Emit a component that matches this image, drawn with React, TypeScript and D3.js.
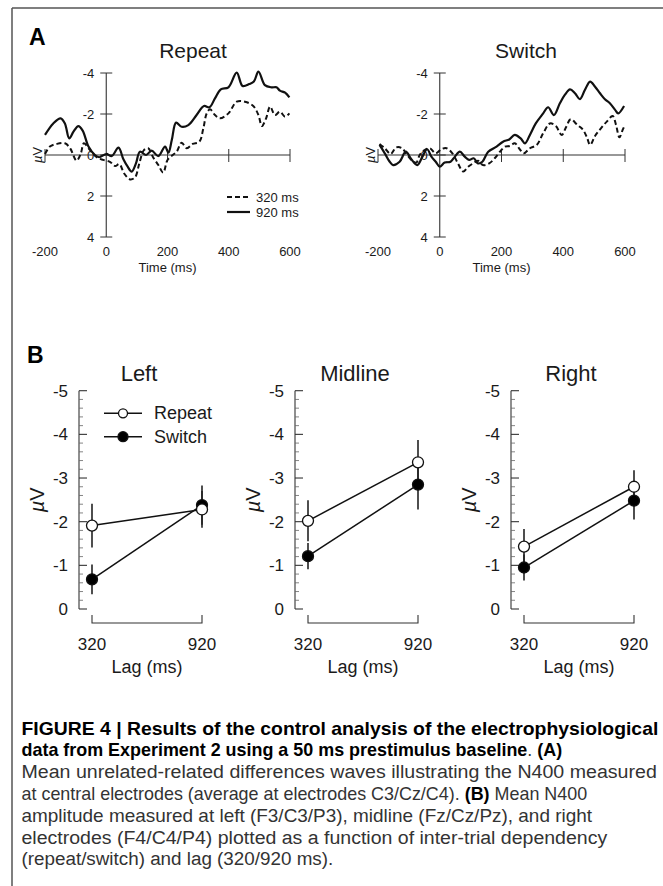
import React, { useLayoutEffect, useRef, useState } from 'react';
import * as d3 from 'd3';

// ---------- Panel A data (time in ms, amplitude in µV; negative plotted up) ----------
const waveTicksX = [-200, 0, 200, 400, 600];
const waveTickMarksX = [-200, 200, 400, 600];
const waveTicksY = [-4, -2, 0, 2, 4];

const repeat920: [number, number][] = [
  [-200, -0.98], [-173, -1.54], [-149, -1.79], [-135, -1.54], [-121, -0.81], [-107, -1.14],
  [-91, -1.41], [-77, -1.19], [-58, -0.41], [-37, 0.0], [-23, 0.11], [0, -0.05], [18, 0.05],
  [40, -0.36], [56, 0.21], [70, 0.57], [83, 0.81], [97, 0.41], [110, -0.16], [130, 0.0],
  [148, -0.21], [170, 0.05], [192, -0.41], [203, -0.11], [214, -0.73], [228, -1.58],
  [246, -1.38], [268, -1.46], [295, -1.95], [319, -2.39], [337, -2.33], [355, -2.76],
  [374, -3.2], [399, -3.3], [426, -4.02], [445, -3.37], [467, -3.46], [482, -3.58],
  [497, -4.07], [518, -3.41], [540, -3.3], [556, -3.3], [567, -3.14], [584, -3.04], [598, -2.81],
];

const repeat320: [number, number][] = [
  [-200, -0.05], [-184, -0.41], [-162, -0.54], [-135, -0.57], [-118, -0.33], [-97, 0.28],
  [-83, -0.08], [-73, -0.57], [-55, -0.28], [-31, 0.11], [-10, 0.24], [12, 0.33], [29, 0.54],
  [43, 0.44], [58, 0.89], [78, 1.19], [94, 1.09], [108, 0.41], [123, -0.24], [137, -0.33],
  [152, 0.08], [170, 0.49], [186, 0.86], [200, 0.24], [217, 0.0], [230, -0.16], [246, -0.6],
  [263, -0.33], [282, -0.54], [304, -0.65], [317, -1.3], [328, -2.03], [339, -2.23],
  [355, -1.95], [371, -1.79], [399, -2.03], [426, -2.6], [453, -2.6], [480, -2.39],
  [497, -1.95], [508, -1.41], [522, -1.79], [535, -2.36], [551, -1.95], [567, -2.11],
  [584, -1.87], [598, -2.03],
];

const switch920: [number, number][] = [
  [-195, -0.49], [-178, -0.08], [-162, 0.33], [-151, 0.49], [-130, 0.33], [-110, -0.16],
  [-92, 0.21], [-73, 0.49], [-56, 0.08], [-41, -0.28], [-27, 0.08], [-13, 0.33], [0, 0.57],
  [16, 0.37], [35, 0.33], [49, 0.08], [65, -0.16], [81, 0.08], [95, 0.24], [110, 0.16],
  [124, 0.41], [138, 0.33], [157, -0.16], [184, -0.41], [205, -0.65], [225, -0.76],
  [243, -0.98], [262, -0.81], [276, -0.57], [292, -0.98], [311, -1.54], [335, -2.03],
  [351, -2.33], [370, -1.95], [389, -2.52], [405, -2.93], [422, -3.2], [438, -3.01],
  [454, -2.73], [470, -3.17], [487, -3.58], [503, -3.33], [519, -3.01], [535, -2.72],
  [551, -2.52], [568, -2.2], [578, -2.03], [597, -2.39],
];

const switch320: [number, number][] = [
  [-195, -0.54], [-178, -0.33], [-159, -0.05], [-141, -0.37], [-122, -0.33], [-108, -0.05],
  [-92, 0.24], [-76, 0.37], [-65, 0.0], [-49, -0.24], [-32, -0.33], [-13, -0.08], [5, -0.28],
  [22, -0.33], [41, -0.08], [59, 0.41], [76, 0.81], [92, 0.57], [108, 0.41], [124, 0.28],
  [140, 0.49], [160, 0.41], [178, 0.16], [195, -0.16], [211, -0.41], [227, -0.44],
  [243, -0.57], [259, -0.28], [272, -0.08], [292, -0.33], [314, -0.49], [335, -1.06],
  [357, -1.54], [376, -1.41], [395, -0.98], [409, -1.35], [424, -1.74], [446, -1.46],
  [463, -1.25], [476, -0.89], [487, -0.49], [503, -0.93], [522, -1.3], [541, -1.63],
  [560, -1.9], [571, -1.46], [582, -0.86], [593, -1.25], [597, -1.38],
];

const lagLegend = ['320 ms', '920 ms'];

// ---------- Panel B data ----------
const lags = [320, 920];
const regions = ['Left', 'Midline', 'Right'];
const repeatMeans = [[-1.91, -2.28], [-2.02, -3.36], [-1.43, -2.8]];
const repeatErr = [[0.5, 0.42], [0.47, 0.51], [0.4, 0.38]];
const switchMeans = [[-0.68, -2.38], [-1.21, -2.85], [-0.95, -2.48]];
const switchErr = [[0.34, 0.45], [0.3, 0.57], [0.3, 0.43]];
const barTicksY = [0, -1, -2, -3, -4, -5];
const seriesNames = ['Repeat', 'Switch'];

// ---------- Caption ----------
type Seg = { t: string; b: boolean };
const captionLines: Seg[][] = [
  [{ t: 'FIGURE 4 | Results of the control analysis of the electrophysiological', b: true }],
  [{ t: 'data from Experiment 2 using a 50 ms prestimulus baseline', b: true }, { t: '. ', b: false }, { t: '(A)', b: true }],
  [{ t: 'Mean unrelated-related differences waves illustrating the N400 measured', b: false }],
  [{ t: 'at central electrodes (average at electrodes C3/Cz/C4). ', b: false }, { t: '(B)', b: true }, { t: ' Mean N400', b: false }],
  [{ t: 'amplitude measured at left (F3/C3/P3), midline (Fz/Cz/Pz), and right', b: false }],
  [{ t: 'electrodes (F4/C4/P4) plotted as a function of inter-trial dependency', b: false }],
  [{ t: '(repeat/switch) and lag (320/920 ms).', b: false }],
];
const captionWidths = [637, 541, 636, 566, 571, 586, 312];

const FONT = 'Liberation Sans, Arial, Helvetica, sans-serif';
const INK = '#1a1a1a';

function CaptionLine({ segs, x, y, width }: { segs: Seg[]; x: number; y: number; width: number }) {
  const ref = useRef<SVGTextElement>(null);
  const [sx, setSx] = useState(1);
  useLayoutEffect(() => {
    if (ref.current) {
      const w = ref.current.getComputedTextLength();
      if (w > 0) setSx(width / w);
    }
  }, [width]);
  return (
    <text ref={ref} transform={`translate(${x},${y}) scale(${sx},1)`} fontSize={18} fontFamily={FONT} fill="#333"
      style={{ whiteSpace: 'pre' }}>
      {segs.map((s, j) => (
        <tspan key={j} fontWeight={s.b ? 'bold' : 'normal'} fill={s.b ? '#000' : '#333'}>{s.t}</tspan>
      ))}
    </text>
  );
}

function WavePanel({ x0, x1, title, solid, dashed, legend }: {
  x0: number; x1: number; title: string; solid: [number, number][]; dashed: [number, number][]; legend: boolean;
}) {
  const xs = d3.scaleLinear().domain([-200, 600]).range([x0, x1]);
  const ys = d3.scaleLinear().domain([-4, 4]).range([73, 237]);
  const line = d3.line<[number, number]>().x(d => xs(d[0])).y(d => ys(d[1])).curve(d3.curveCatmullRom.alpha(0.5));
  const ax = xs(0);
  return (
    <g fontFamily={FONT} fill={INK}>
      <text x={x0 + 148} y={58} fontSize={21} textAnchor="middle">{title}</text>
      <line x1={ax} x2={ax} y1={ys(-4)} y2={ys(4)} stroke="#333" strokeWidth={1.1} />
      {waveTicksY.map(v => (
        <g key={v}>
          <line x1={ax - 6} x2={ax + 6} y1={ys(v)} y2={ys(v)} stroke="#333" strokeWidth={1} />
          <text x={ax - 12} y={ys(v) + 4.5} fontSize={13} textAnchor="end">{v < 0 ? `-${-v}` : `${v}`}</text>
        </g>
      ))}
      <line x1={xs(-200)} x2={xs(600)} y1={ys(0)} y2={ys(0)} stroke="#333" strokeWidth={1.1} />
      {waveTickMarksX.map(t => (
        <line key={t} x1={xs(t)} x2={xs(t)} y1={ys(0) - 6} y2={ys(0) + 7} stroke="#333" strokeWidth={1} />
      ))}
      {waveTicksX.map(t => (
        <text key={t} x={xs(t)} y={256} fontSize={13} textAnchor="middle">{t < 0 ? `-${-t}` : `${t}`}</text>
      ))}
      <text x={xs(200)} y={272} fontSize={13} textAnchor="middle">Time (ms)</text>
      <text transform={`translate(${x0 - 7},${ys(0)}) rotate(-90)`} fontSize={13} textAnchor="middle" dy={4}>
        <tspan fontStyle="italic">µ</tspan>V
      </text>
      <path d={line(dashed) || ''} fill="none" stroke="#111" strokeWidth={2} strokeDasharray="5,3" />
      <path d={line(solid) || ''} fill="none" stroke="#111" strokeWidth={2.2} />
      {legend && (
        <g>
          <line x1={x0 + 182} x2={x0 + 205} y1={197} y2={197} stroke="#111" strokeWidth={2} strokeDasharray="5,3" />
          <text x={x0 + 211} y={201.5} fontSize={13}>{lagLegend[0]}</text>
          <line x1={x0 + 182} x2={x0 + 205} y1={212} y2={212} stroke="#111" strokeWidth={2.2} />
          <text x={x0 + 211} y={216.5} fontSize={13}>{lagLegend[1]}</text>
        </g>
      )}
    </g>
  );
}

function BarPanel({ ax, idx, legend }: { ax: number; idx: number; legend: boolean }) {
  const ys = d3.scaleLinear().domain([0, -5]).range([609, 390.7]);
  const xs = d3.scaleLinear().domain([320, 920]).range([ax + 13, ax + 123]);
  const minor = d3.range(0, -5.001, -0.2).filter(v => Math.abs(v - Math.round(v)) > 1e-6);
  const series = [
    { means: switchMeans[idx], err: switchErr[idx], fill: '#000' },
    { means: repeatMeans[idx], err: repeatErr[idx], fill: '#fff' },
  ];
  const r = 5.5;
  return (
    <g fontFamily={FONT} fill={INK}>
      <text x={ax + 60} y={380.5} fontSize={22} textAnchor="middle">{regions[idx]}</text>
      <line x1={ax} x2={ax} y1={ys(-5)} y2={ys(0)} stroke="#333" strokeWidth={1.1} />
      {barTicksY.map(v => (
        <g key={v}>
          <line x1={ax} x2={ax + 8} y1={ys(v)} y2={ys(v)} stroke="#333" strokeWidth={1.1} />
          <text x={ax - 11} y={ys(v) + 6} fontSize={17} textAnchor="end">{v < 0 ? `-${-v}` : `${v}`}</text>
        </g>
      ))}
      {minor.map(v => (
        <line key={v} x1={ax} x2={ax + 4} y1={ys(v)} y2={ys(v)} stroke="#666" strokeWidth={0.8} />
      ))}
      <text transform={`translate(${ax - 41},${ys(-2.5)}) rotate(-90)`} fontSize={20} textAnchor="middle" dy={6}>
        <tspan fontStyle="italic">µ</tspan>V
      </text>
      <path d={`M${xs(320)},615 V623 H${xs(920)} V615`} fill="none" stroke="#333" strokeWidth={1.1} />
      {lags.map(l => (
        <text key={l} x={xs(l)} y={650} fontSize={17} textAnchor="middle">{l}</text>
      ))}
      <text x={ax + 68} y={673} fontSize={18} textAnchor="middle">Lag (ms)</text>
      {series.map((s, i) => (
        <g key={`l${i}`}>
          <line x1={xs(lags[0])} x2={xs(lags[1])} y1={ys(s.means[0])} y2={ys(s.means[1])} stroke="#111" strokeWidth={1.5} />
          {lags.map((l, j) => (
            <line key={l} x1={xs(l)} x2={xs(l)} y1={ys(s.means[j] - s.err[j])} y2={ys(s.means[j] + s.err[j])} stroke="#222" strokeWidth={1.6} />
          ))}
        </g>
      ))}
      {series.map((s, i) => (
        <g key={`c${i}`}>
          {lags.map((l, j) => (
            <circle key={l} cx={xs(l)} cy={ys(s.means[j])} r={r} fill={s.fill} stroke="#111" strokeWidth={1.3} />
          ))}
        </g>
      ))}
      {legend && (
        <g>
          {seriesNames.map((n, i) => {
            const y = 413.3 + i * 23.4;
            return (
              <g key={n}>
                <line x1={ax + 25} x2={ax + 63} y1={y} y2={y} stroke="#111" strokeWidth={1.5} />
                <circle cx={ax + 44} cy={y} r={i === 0 ? 4.5 : 5} fill={i === 0 ? '#fff' : '#000'} stroke="#111" strokeWidth={1.3} />
                <text x={ax + 75} y={y + 6} fontSize={18}>{n}</text>
              </g>
            );
          })}
        </g>
      )}
    </g>
  );
}

export default function App() {
  return (
    <svg width={663} height={886} style={{ position: 'absolute', left: 0, top: 0, background: '#fff' }}>
      <rect x={0} y={0} width={663} height={886} fill="#fff" />
      <line x1={12} x2={663} y1={8} y2={8} stroke="#555" strokeWidth={1.5} />
      <line x1={12} x2={12} y1={8} y2={886} stroke="#555" strokeWidth={1.5} />
      <text x={29} y={45} fontSize={23} fontWeight="bold" fontFamily={FONT} fill="#000">A</text>
      <WavePanel x0={45} x1={290} title="Repeat" solid={repeat920} dashed={repeat320} legend={true} />
      <WavePanel x0={378} x1={625} title="Switch" solid={switch920} dashed={switch320} legend={false} />
      <text x={27} y={362.7} fontSize={23} fontWeight="bold" fontFamily={FONT} fill="#000">B</text>
      {regions.map((_, i) => (
        <BarPanel key={i} ax={79 + i * 216} idx={i} legend={i === 0} />
      ))}
      {captionLines.map((segs, i) => (
        <CaptionLine key={i} segs={segs} x={21.5} y={734.5 + i * 21.8} width={captionWidths[i]} />
      ))}
    </svg>
  );
}
